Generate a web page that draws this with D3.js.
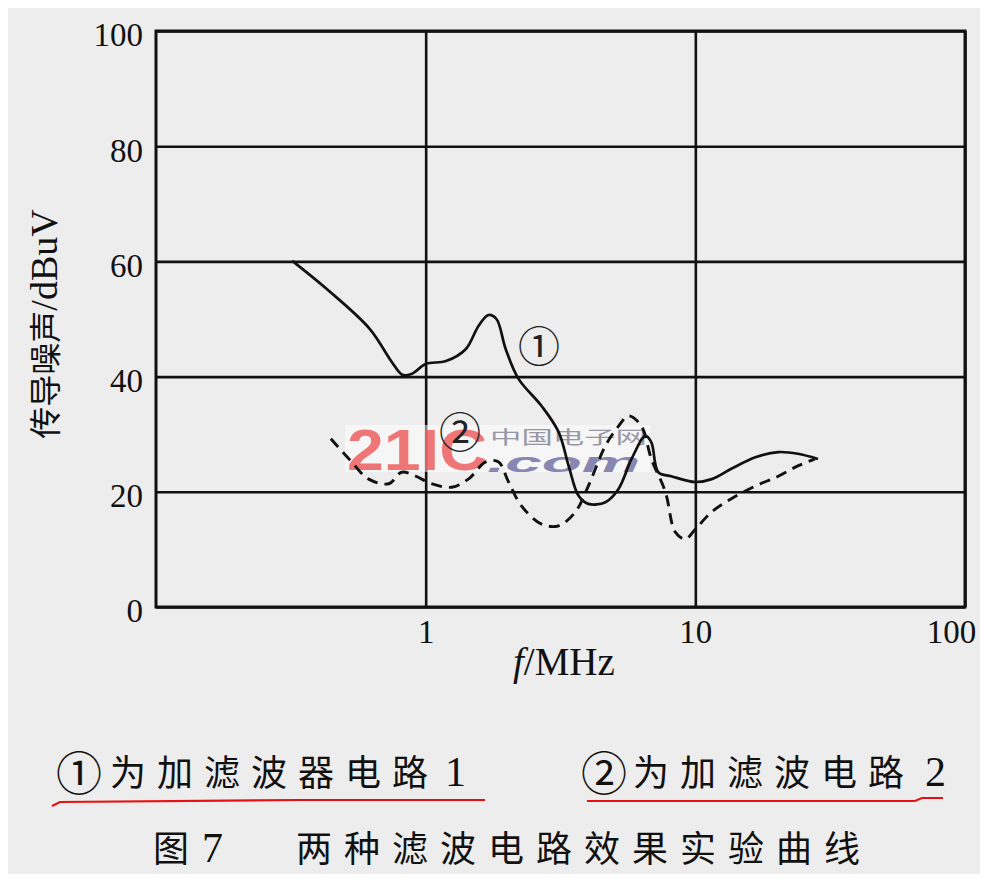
<!DOCTYPE html>
<html>
<head>
<meta charset="utf-8">
<script src="https://cdn.jsdelivr.net/npm/d3@7"></script>
<style>
  body { margin: 0; background: #fff; }
  svg { display: block; }
</style>
</head>
<body>
<svg id="chartSvg" width="985" height="882"></svg>
<script>
// curve 1: filter circuit 1 (solid)
const freq1 = [0.32, 0.43, 0.62, 0.75, 0.82, 0.89, 1.0, 1.19, 1.41, 1.57, 1.71, 1.83, 1.98, 2.21, 2.69, 3.11, 3.39, 3.69, 4.01, 4.64, 5.19, 5.8, 6.53, 6.87, 7.29, 8.15, 10, 11.5, 13.6, 16.7, 20.3, 24, 28.5];
const noise1 = [60.1, 55.2, 48.3, 42.5, 40.3, 40.5, 42.2, 42.7, 44.8, 48.8, 50.7, 50.0, 44.8, 39.6, 34.9, 30.4, 24.5, 19.3, 17.9, 18.2, 20.5, 25.7, 29.7, 28.6, 23.4, 22.7, 21.7, 22.2, 24.0, 26.0, 26.9, 26.6, 25.7];

// curve 2: filter circuit 2 (dashed)
const freq2 = [0.445, 0.52, 0.615, 0.73, 0.815, 0.92, 1.05, 1.25, 1.44, 1.67, 1.86, 2.03, 2.27, 2.69, 3.11, 3.59, 4.01, 4.64, 5.19, 5.65, 6.31, 6.87, 7.74, 8.43, 9.18, 10, 11.5, 13.6, 16.7, 20.3, 24, 27.8];
const noise2 = [29.2, 25.7, 22.2, 21.4, 23.4, 22.7, 21.4, 20.8, 22.2, 25.2, 25.2, 21.7, 17.5, 14.4, 14.1, 16.5, 21.0, 28.0, 31.4, 33.2, 31.4, 25.7, 20.0, 13.0, 11.8, 13.5, 16.5, 18.8, 21.0, 22.7, 24.5, 25.7];

const yTicks = [0, 20, 40, 60, 80, 100];
const xTicks = [1, 10, 100];
const yLabel = ["传导噪声", "/dBuV"];
const curveTags = ["①", "②"];
const legendText = [["①", "为加滤波器电路", "1"], ["②", "为加滤波电路", "2"]];
const caption = ["图", "7", "两种滤波电路效果实验曲线"];

function createChart() {
    const svg = d3.select("#chartSvg");
    const margin = { top: 31, left: 156 };
    const width = 809;
    const height = 576;
    const cjk = "'Noto Sans CJK SC', sans-serif";
    const serif = "'Liberation Serif', 'DejaVu Serif', serif";

    // scanned page background
    svg.append("rect")
        .attr("x", 8).attr("y", 8)
        .attr("width", 972).attr("height", 866)
        .attr("fill", "#ededed");

    const g = svg.append("g").attr("transform", `translate(${margin.left},${margin.top})`);

    const x = d3.scaleLog().domain([0.1, 100]).range([0, width]);
    const y = d3.scaleLinear().domain([0, 100]).range([height, 0]);

    const yAxis = g.append("g")
        .call(d3.axisLeft(y).tickValues(yTicks).tickSize(-width).tickPadding(13));
    const xAxis = g.append("g")
        .attr("transform", `translate(0,${height})`)
        .call(d3.axisBottom(x).tickValues(xTicks).tickFormat(d3.format("d")).tickSize(-height).tickPadding(13));

    [xAxis, yAxis].forEach(ax => {
        ax.select(".domain").remove();
        ax.selectAll("line").attr("stroke", "#111").attr("stroke-width", 2.6);
        ax.selectAll("text")
            .attr("fill", "#111")
            .style("font-family", serif)
            .style("font-size", "33px");
    });
    yAxis.selectAll("text").attr("dy", "0.45em");
    xAxis.selectAll("text").filter(d => d === 100).attr("dx", -14);

    g.append("rect")
        .attr("width", width).attr("height", height)
        .attr("fill", "none")
        .attr("stroke", "#111")
        .attr("stroke-width", 3);

    // watermark
    const wm = g.append("g").attr("opacity", 0.9);
    wm.append("rect")
        .attr("x", 345 - margin.left).attr("y", 425 - margin.top)
        .attr("width", 305).attr("height", 47)
        .attr("fill", "#fff").attr("opacity", 0.55);
    wm.append("text")
        .attr("x", 347 - margin.left).attr("y", 470 - margin.top)
        .attr("textLength", 140).attr("lengthAdjust", "spacingAndGlyphs")
        .attr("fill", "#ef6a6a")
        .style("font-family", "'Liberation Sans', sans-serif")
        .style("font-weight", "bold")
        .style("font-size", "58px")
        .text("21IC");
    wm.append("text")
        .attr("x", 490 - margin.left).attr("y", 444 - margin.top)
        .attr("textLength", 157).attr("lengthAdjust", "spacingAndGlyphs")
        .attr("fill", "#8e8e9e")
        .style("font-family", cjk)
        .style("font-size", "18px")
        .text("中国电子网");
    wm.append("text")
        .attr("x", 487 - margin.left).attr("y", 472 - margin.top)
        .attr("textLength", 153).attr("lengthAdjust", "spacingAndGlyphs")
        .attr("fill", "#7c7cab")
        .style("font-family", "'Liberation Sans', sans-serif")
        .style("font-weight", "bold")
        .style("font-style", "italic")
        .style("font-size", "27px")
        .text(".com");

    const line = d3.line()
        .x(d => x(d[0]))
        .y(d => y(d[1]))
        .curve(d3.curveCatmullRom.alpha(0.5));

    g.append("path")
        .datum(d3.zip(freq1, noise1))
        .attr("d", line)
        .attr("fill", "none")
        .attr("stroke", "#111")
        .attr("stroke-width", 2.7);

    g.append("path")
        .datum(d3.zip(freq2, noise2))
        .attr("d", line)
        .attr("fill", "none")
        .attr("stroke", "#111")
        .attr("stroke-width", 2.9)
        .attr("stroke-dasharray", "11,7");

    // curve tags
    g.selectAll(".tag")
        .data([[2.63, 45.7], [1.34, 30.9]])
        .enter()
        .append("text")
        .attr("class", "tag")
        .attr("x", d => x(d[0]))
        .attr("y", d => y(d[1]))
        .attr("text-anchor", "middle")
        .attr("dominant-baseline", "central")
        .attr("fill", "#222")
        .style("font-family", cjk)
        .style("font-size", "42px")
        .text((d, i) => curveTags[i]);

    // axis titles
    const yt = svg.append("text")
        .attr("transform", "translate(57,324) rotate(-90)")
        .attr("text-anchor", "middle")
        .attr("fill", "#111");
    yt.append("tspan").style("font-family", cjk).style("font-size", "32px").text(yLabel[0]);
    yt.append("tspan").style("font-family", serif).style("font-size", "38px").text(yLabel[1]);

    const xt = svg.append("text")
        .attr("x", 513).attr("y", 675)
        .attr("fill", "#111")
        .style("font-family", serif)
        .style("font-size", "39px");
    xt.append("tspan").style("font-style", "italic").text("f");
    xt.append("tspan").text("/MHz");

    // legend lines under the chart
    const legendPos = [[56, 110, 445], [581, 633, 925]];
    legendPos.forEach((p, i) => {
        svg.append("text")
            .attr("x", p[0]).attr("y", 790)
            .attr("fill", "#111")
            .style("font-family", cjk).style("font-size", "46px")
            .text(legendText[i][0]);
        svg.append("text")
            .attr("x", p[1]).attr("y", 786)
            .attr("fill", "#111")
            .style("font-family", cjk).style("font-size", "36px")
            .style("letter-spacing", "11px")
            .text(legendText[i][1]);
        svg.append("text")
            .attr("x", p[2]).attr("y", 786)
            .attr("fill", "#111")
            .style("font-family", serif).style("font-size", "42px")
            .text(legendText[i][2]);
    });

    svg.append("path")
        .attr("d", "M52,806 L60,802 L300,800 L485,800")
        .attr("fill", "none").attr("stroke", "#e81010").attr("stroke-width", 2.2);
    svg.append("path")
        .attr("d", "M587,801 L915,801 L922,798 L943,798")
        .attr("fill", "none").attr("stroke", "#e81010").attr("stroke-width", 2.2);

    // figure caption
    svg.append("text")
        .attr("x", 153).attr("y", 862)
        .attr("fill", "#111")
        .style("font-family", cjk).style("font-size", "36px")
        .text(caption[0]);
    svg.append("text")
        .attr("x", 202).attr("y", 862)
        .attr("fill", "#111")
        .style("font-family", serif).style("font-size", "42px")
        .text(caption[1]);
    svg.append("text")
        .attr("x", 296).attr("y", 862)
        .attr("fill", "#111")
        .style("font-family", cjk).style("font-size", "36px")
        .style("letter-spacing", "12px")
        .text(caption[2]);
}

createChart();
</script>
</body>
</html>
